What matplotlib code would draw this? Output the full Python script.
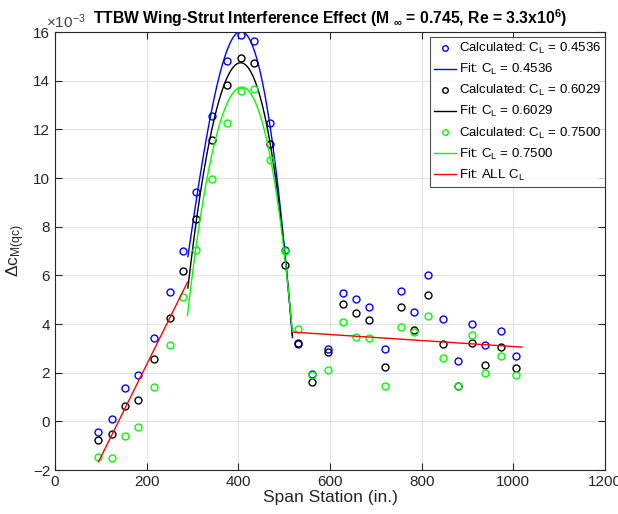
import numpy as np
import matplotlib
matplotlib.use("Agg")
import matplotlib.pyplot as plt

plt.rcParams["font.family"] = ["Liberation Sans", "DejaVu Sans"]
plt.rcParams["mathtext.default"] = "regular"

# span stations (in.)
station = [93, 124, 153, 182, 216, 250, 280, 307, 342, 376, 405, 435, 468, 502,
           531, 560, 595, 628, 657, 686, 720, 754, 784, 813, 846, 880, 909, 939, 973, 1005]

# delta c_M(qc) values, x1e-3
dcm_04536 = [-0.42, 0.08, 1.37, 1.89, 3.42, 5.31, 7.00, 9.43, 12.57, 14.82, 15.89, 15.65, 12.25, 7.05,
             3.18, 1.94, 2.97, 5.28, 5.01, 4.71, 2.97, 5.37, 4.48, 6.01, 4.19, 2.49, 4.00, 3.13, 3.72, 2.70]
dcm_06029 = [-0.77, -0.52, 0.63, 0.86, 2.55, 4.23, 6.19, 8.30, 11.58, 13.81, 14.92, 14.71, 11.38, 6.44,
             3.23, 1.61, 2.83, 4.82, 4.45, 4.15, 2.25, 4.68, 3.76, 5.20, 3.18, 1.44, 3.22, 2.31, 3.07, 2.20]
dcm_07500 = [-1.45, -1.51, -0.60, -0.23, 1.42, 3.15, 5.13, 7.06, 9.98, 12.25, 13.59, 13.65, 10.75, 7.02,
             3.78, 1.90, 2.12, 4.08, 3.48, 3.42, 1.44, 3.87, 3.68, 4.35, 2.59, 1.44, 3.55, 2.00, 2.68, 1.92]
cl_labels = ["0.4536", "0.6029", "0.7500"]
colors = ["#0000ff", "#000000", "#00ff00"]

# peak-region fit curves
fit_x_04536 = [290, 300.7, 308, 313, 335, 359, 382, 405, 430, 455, 471, 483, 494, 506, 518]
fit_y_04536 = [6.55, 8.0, 9.42, 10.0, 12.0, 14.0, 15.44, 15.95, 15.72, 14.0, 12.0, 10.0, 8.0, 6.0, 3.67]
fit_x_06029 = [290, 296, 304, 318, 347, 382, 405, 425, 443, 462, 480, 494, 506, 518]
fit_y_06029 = [5.45, 6.0, 8.0, 10.0, 12.0, 14.0, 14.92, 14.6, 14.0, 12.0, 10.0, 8.0, 6.0, 3.67]
fit_x_07500 = [289, 298.5, 313, 333, 357, 376, 405, 435, 458, 476, 493, 506, 518]
fit_y_07500 = [4.22, 6.0, 8.0, 10.0, 12.0, 13.18, 13.63, 13.32, 12.0, 10.0, 8.0, 6.0, 3.67]
fit_degree = 4

# "ALL C_L" linear fits
red_in_x = [95, 289]
red_in_y = [-1.66, 5.72]
red_out_x = [518, 1019]
red_out_y = [3.67, 3.05]

fig = plt.figure(figsize=(6.18, 5.14), dpi=100)
ax = fig.add_axes([0.089, 0.0856, 0.890, 0.852])

fits = [(fit_x_04536, fit_y_04536), (fit_x_06029, fit_y_06029), (fit_x_07500, fit_y_07500)]
handles = []
for vals, (fx, fy), lab, c in zip([dcm_04536, dcm_06029, dcm_07500], fits, cl_labels, colors):
    h1, = ax.plot(station, vals, "o", mfc="none", mec=c, ms=5, mew=1.0,
                  label=f"Calculated: C$_L$ = {lab}")
    # smooth polynomial through the read points
    p = np.polyfit(fx, fy, fit_degree)
    xs = np.linspace(fx[0], fx[-1], 200)
    h2, = ax.plot(xs, np.polyval(p, xs), "-", color=c, lw=1.0, label=f"Fit: C$_L$ = {lab}")
    handles += [h1, h2]

h3, = ax.plot(red_in_x, red_in_y, "-", color="#ff0000", lw=1.0, label="Fit: ALL C$_L$")
ax.plot(red_out_x, red_out_y, "-", color="#ff0000", lw=1.0)
handles.append(h3)

ax.set_xlim(0, 1200)
ax.set_ylim(-2, 16)
ax.set_xticks(np.arange(0, 1201, 200))
ax.set_yticks(np.arange(-2, 17, 2))
ax.grid(True, color="#e3e3e3", lw=0.8)
ax.set_axisbelow(True)
ax.tick_params(direction="in", top=True, right=True, labelsize=11, colors="#262626",
               length=5)
for s in ax.spines.values():
    s.set_color("#262626")
    s.set_linewidth(0.8)

ax.set_xlabel("Span Station (in.)", fontsize=12.5, color="#262626", labelpad=1)
ax.set_ylabel(r"$\Delta$c$_{M(qc)}$", fontsize=12.5, color="#262626", labelpad=4)
ax.set_title(r"TTBW Wing-Strut Interference Effect (M $_{\infty}$ = 0.745, Re = 3.3x10$^{6}$)",
             fontsize=11.3, fontweight="bold", pad=6)
ax.text(-0.017, 1.002, r"$\times$10$^{-3}$", transform=ax.transAxes, fontsize=11,
        color="#404040", va="bottom", ha="left")

leg = ax.legend(handles=handles, loc="upper right", bbox_to_anchor=(1.0, 0.988),
                fontsize=9.5, frameon=True, fancybox=False, edgecolor="#262626",
                handlelength=1.7, handletextpad=0.2, borderpad=0.3, labelspacing=0.45,
                borderaxespad=0.0, markerscale=0.8)
leg.get_frame().set_linewidth(0.8)

fig.savefig("out.png", dpi=100)
